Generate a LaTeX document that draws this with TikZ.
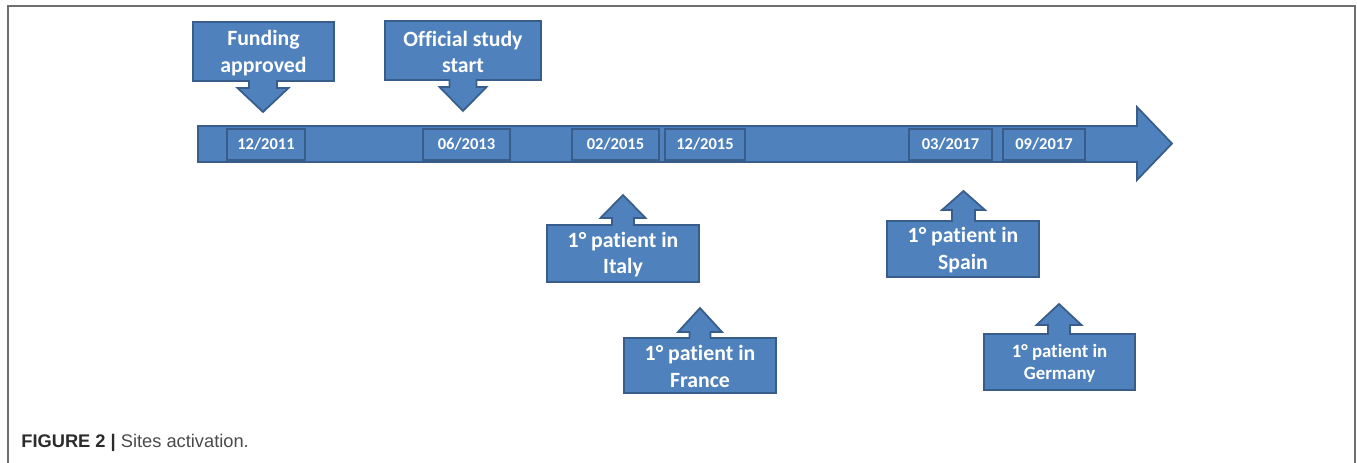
\documentclass[tikz,border=0pt]{standalone}
\usepackage{fontspec}
\setmainfont{Carlito}[Ligatures=NoCommon]
\newfontfamily\capfont{Liberation Sans}

\definecolor{boxblue}{HTML}{4F81BD}
\definecolor{boxedge}{HTML}{385D8A}
\definecolor{framegray}{HTML}{6E6E6E}
\definecolor{capdark}{HTML}{2B2B2B}
\definecolor{capgray}{HTML}{4A4A4A}

\tikzset{
  shapeblue/.style={fill=boxblue, draw=boxedge, line width=1pt, line join=miter},
  calltext/.style={text=white, font=\bfseries\fontsize{12.4}{15}\selectfont, align=center, inner sep=0pt},
  datetext/.style={text=white, font=\bfseries\fontsize{9.4}{11}\selectfont, inner sep=0pt},
}

% callout box with a pointer below it: x1,y1,x2,y2,cx,stem end,tip,stem half,head half
\newcommand{\calldown}[9]{%
  \draw[shapeblue] (#1,#2) -- (#3,#2) -- (#3,#4) -- (#5+#8,#4) -- (#5+#8,#6) -- (#5+#9,#6)
    -- (#5,#7) -- (#5-#9,#6) -- (#5-#8,#6) -- (#5-#8,#4) -- (#1,#4) -- cycle;}
% callout box with a pointer above it
\newcommand{\callup}[9]{%
  \draw[shapeblue] (#1,#4) -- (#1,#2) -- (#5-#8,#2) -- (#5-#8,#6) -- (#5-#9,#6)
    -- (#5,#7) -- (#5+#9,#6) -- (#5+#8,#6) -- (#5+#8,#2) -- (#3,#2) -- (#3,#4) -- cycle;}

\begin{document}
\begin{tikzpicture}[x=0.02cm, y=-0.02cm]

    \useasboundingbox (0,0) rectangle (1357,463);

    % Frame
    \draw[framegray, line width=1.1pt] (8,463) -- (8,6) -- (1355,6) -- (1355,463);

    % Time line
    \draw[shapeblue] (198,126) -- (1137,126) -- (1137,107) -- (1172,143.5)
        -- (1137,180) -- (1137,162) -- (198,162) -- cycle;

    % Dates
    \foreach \xa/\xb/\d [count=\i] in {227/305/{12/2011}, 423/510/{06/2013},
            572/659/{02/2015}, 665/745/{12/2015}, 909/992/{03/2017}, 1003/1085/{09/2017}}{
        \draw[shapeblue] (\xa,129) rectangle (\xb,160);
        \node[datetext] (d\i) at ({(\xa+\xb)/2},144.5) {\d};
    }

    % Events above the line
    \calldown{193}{22}{334}{81}{263}{88}{112}{14}{25.5}
    \node[calltext] (fund) at (263.5,53) {Funding\\approved};
    \calldown{385}{21}{541}{80}{463}{87}{111}{13.5}{23.5}
    \node[calltext] (start) at (463,52) {Official study\\start};

    % Events below the line
    \callup{547}{225}{699}{282}{623}{218}{195}{11}{22.5}
    \node[calltext] (italy) at (623,254.5) {1° patient in\\Italy};
    \callup{624}{338}{776}{393}{700}{332}{308}{10.5}{22}
    \node[calltext] (france) at (700,366.5) {1° patient in\\France};
    \callup{887}{221}{1039}{277}{963.5}{210}{191}{11.5}{21.5}
    \node[calltext] (spain) at (963,250) {1° patient in\\Spain};
    \callup{984}{334}{1135}{390}{1059}{325}{304}{11}{22.5}
    \node[calltext, font=\bfseries\fontsize{10.7}{12.8}\selectfont] (germany) at (1059.5,363.5) {1° patient in\\Germany};

    % Caption
    \node[anchor=base west, inner sep=0pt, font=\capfont\fontsize{10.4}{12}\selectfont] (cap) at (21,447)
        {\textcolor{capdark}{\bfseries FIGURE 2 |} \textcolor{capgray}{Sites activation.}};

\end{tikzpicture}
\end{document}
